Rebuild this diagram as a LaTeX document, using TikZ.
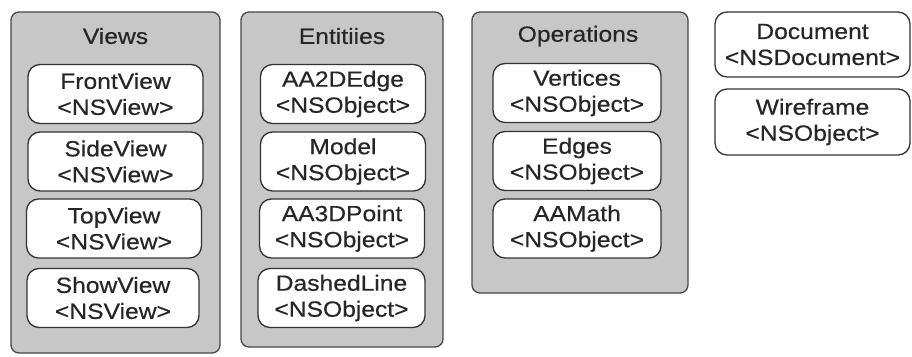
\documentclass[tikz,border=0pt]{standalone}
\usepackage{fontspec}
\setmainfont[FakeStretch=1.12,FakeBold=0.4]{Liberation Sans}
\begin{document}
\begin{tikzpicture}[x=1pt,y=-1pt,
  container/.style={draw=black!72, fill=black!22, line width=1.3pt, rounded corners=8pt, inner sep=0pt},
  title/.style={inner sep=0pt, font=\fontsize{22}{26}\selectfont, text=black!85},
  item/.style={draw=black!80, fill=white, line width=1.3pt, rounded corners=12pt, inner sep=0pt,
    align=center, font=\fontsize{22}{26}\selectfont, text=black!85, minimum height=59pt}]
\useasboundingbox (0,0) rectangle (912,356);
% Views
\node[container, minimum width=209pt, minimum height=341pt] (views) at (115.5,182.5) {};
\node[title] (viewsT) at (115.5,36) {Views};
\node[item, minimum width=175pt] (front) at (115.5,94) {FrontView\\<NSView>};
\node[item, minimum width=175pt] (side) at (115.5,161.5) {SideView\\<NSView>};
\node[item, minimum width=175pt] (top) at (114,228.5) {TopView\\<NSView>};
\node[item, minimum width=172pt] (show) at (113,298) {ShowView\\<NSView>};
% Entities
\node[container, minimum width=202pt, minimum height=335pt] (ent) at (342,179.5) {};
\node[title] (entT) at (342,36) {Entitiies};
\node[item, minimum width=165pt] (edge2) at (343,94) {AA2DEdge\\<NSObject>};
\node[item, minimum width=165pt] (model) at (343,161.5) {Model\\<NSObject>};
\node[item, minimum width=165pt] (point3) at (342,228.5) {AA3DPoint\\<NSObject>};
\node[item, minimum width=167pt] (dashed) at (341.5,298) {DashedLine\\<NSObject>};
% Operations
\node[container, minimum width=216pt, minimum height=281pt] (ops) at (580,152.5) {};
\node[title] (opsT) at (578,36) {Operations};
\node[item, minimum width=168pt] (vert) at (577,93) {Vertices\\<NSObject>};
\node[item, minimum width=168pt] (edges) at (577,161) {Edges\\<NSObject>};
\node[item, minimum width=168pt] (math) at (577,228.5) {AAMath\\<NSObject>};
% Right
\node[item, minimum width=195pt, minimum height=65pt] (doc) at (812.5,44.5) {Document\\<NSDocument>};
\node[item, minimum width=195pt, minimum height=66pt] (wire) at (812.5,122) {Wireframe\\<NSObject>};
\end{tikzpicture}
\end{document}
